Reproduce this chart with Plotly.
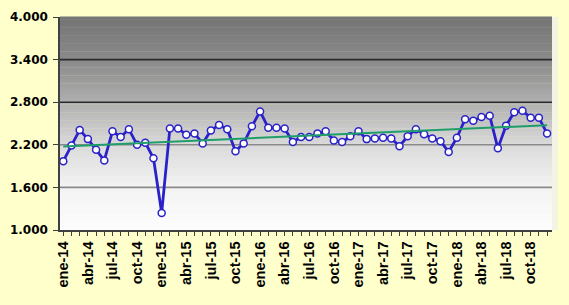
import numpy as np
import plotly.graph_objects as go

months = ["ene", "feb", "mar", "abr", "may", "jun", "jul", "ago", "sep", "oct", "nov", "dic"]
years = ["14", "15", "16", "17", "18"]
categories = [f"{m}-{y}" for y in years for m in months]

values = [
    1.97, 2.19, 2.41, 2.28, 2.13, 1.98, 2.39, 2.31, 2.42, 2.20, 2.23, 2.01,
    1.24, 2.43, 2.43, 2.34, 2.36, 2.22, 2.40, 2.48, 2.42, 2.11, 2.22, 2.46,
    2.67, 2.44, 2.44, 2.43, 2.24, 2.31, 2.31, 2.36, 2.39, 2.26, 2.24, 2.32,
    2.39, 2.28, 2.29, 2.30, 2.29, 2.18, 2.32, 2.42, 2.35, 2.29, 2.25, 2.10,
    2.30, 2.56, 2.54, 2.59, 2.61, 2.15, 2.47, 2.66, 2.68, 2.58, 2.58, 2.36,
]

y_ticks = [1.0, 1.6, 2.2, 2.8, 3.4, 4.0]
y_tick_text = ["1.000", "1.600", "2.200", "2.800", "3.400", "4.000"]
grid_colors = {1.6: "#8a8a8a", 2.2: "#8a8a8a", 2.8: "#2a2a2a", 3.4: "#2a2a2a"}

x = np.arange(len(values))
coef = np.polyfit(x, values, 1)
trend = np.polyval(coef, x)

fig = go.Figure()

# gradient background of plot area
stops = [(0.0, 253), (0.2, 243), (0.4, 218), (0.6, 175), (0.8, 138), (1.0, 116)]
n = 80
shapes = []
for i in range(n):
    f0 = i / n
    f1 = (i + 1) / n
    fm = (f0 + f1) / 2
    g = np.interp(fm, [s[0] for s in stops], [s[1] for s in stops])
    g = int(round(g))
    shapes.append(dict(type="rect", xref="x domain", yref="y domain", x0=0, x1=1,
                       y0=f0, y1=f1 + 0.002, fillcolor=f"rgb({g},{g},{g})",
                       line=dict(width=0), layer="below"))
for v, c in grid_colors.items():
    shapes.append(dict(type="line", xref="x domain", yref="y", x0=0, x1=1, y0=v, y1=v,
                       line=dict(color=c, width=1.6), layer="below"))
shapes.append(dict(type="rect", xref="paper", yref="paper", x0=1.0, x1=1.012, y0=0, y1=1,
                   fillcolor="#f4f4e4", line=dict(width=0), layer="below"))

fig.add_trace(go.Scatter(
    x=x, y=values, mode="lines+markers",
    line=dict(color="#2a22c8", width=2.8),
    marker=dict(symbol="circle", size=7, color="white", line=dict(color="#2a22c8", width=1.5)),
    showlegend=False,
))
fig.add_trace(go.Scatter(
    x=x, y=trend, mode="lines",
    line=dict(color="#1f9e6a", width=2),
    showlegend=False,
))

tick_idx = list(range(0, len(categories), 3))
fig.update_layout(
    width=569, height=305,
    margin=dict(l=54, r=17, t=10, b=75),
    paper_bgcolor="#ffffcc",
    plot_bgcolor="rgba(0,0,0,0)",
    shapes=shapes,
    xaxis=dict(
        range=[-0.4, 59.6], tickmode="array", tickvals=tick_idx,
        ticktext=[categories[i] for i in tick_idx], tickangle=-90,
        showgrid=False, zeroline=False,
        showline=True, linecolor="#404040", linewidth=1.5,
        ticks="outside", ticklen=4, tickcolor="#404040",
        minor=dict(ticks="outside", ticklen=4, tick0=0, dtick=1, tickcolor="#404040", showgrid=False),
        tickfont=dict(family="Liberation Sans", size=14.5, color="black", weight="bold"),
    ),
    yaxis=dict(
        range=[1.0, 4.0], tickmode="array", tickvals=y_ticks, ticktext=y_tick_text,
        showgrid=False, zeroline=False,
        showline=True, linecolor="#404040", linewidth=1.5,
        ticks="outside", ticklen=5, tickcolor="#404040", ticklabelstandoff=3,
        tickfont=dict(family="DejaVu Sans", size=12, color="black", weight="bold"),
    ),
)

fig.write_html("out.html")
